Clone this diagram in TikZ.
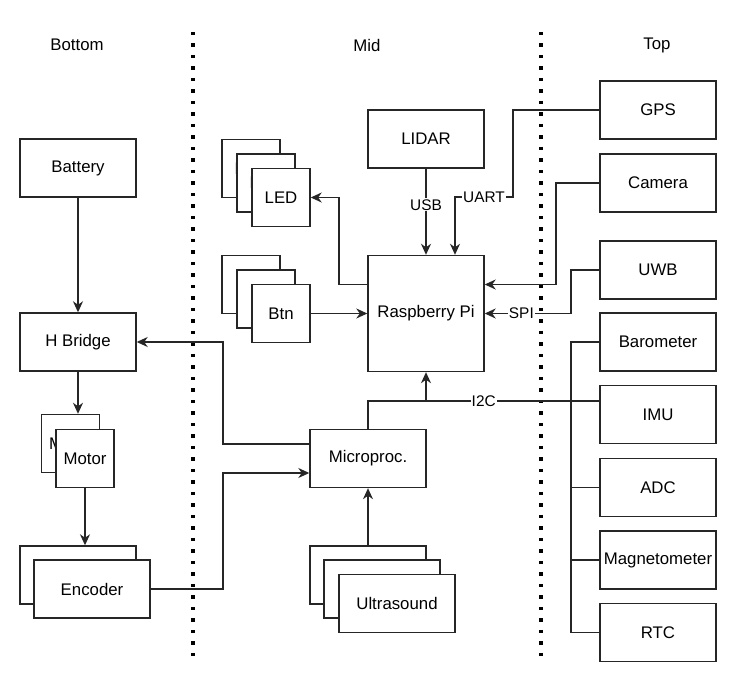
\documentclass[tikz,border=0pt]{standalone}
\usepackage{fontspec}
\setmainfont{Liberation Sans}
\usetikzlibrary{arrows.meta}
\begin{document}
\begin{tikzpicture}[x=1pt,y=-1pt,
    every node/.style={font=\fontsize{16.8}{20}\selectfont},
    blk/.style={draw=black!85,fill=white,line width=1.4pt,minimum width=116pt,minimum height=58pt,inner sep=0pt},
    sblk/.style={blk,minimum width=58pt},
    wire/.style={draw=black!85,line width=1.4pt},
    arr/.style={wire,-{Stealth[length=11pt,width=10pt,inset=3.5pt]}},
    lbl/.style={fill=white,inner sep=1pt,font=\fontsize{15.4}{18}\selectfont},
    sep/.style={line width=3.2pt,dash pattern=on 3.2pt off 8.3pt}]
  \useasboundingbox (0,0) rectangle (732,700);
  % headings and separators
  \node (bottom) at (77,45) {Bottom};
  \node (mid) at (367,45) {Mid};
  \node (top) at (657,45) {Top};
  \draw[sep] (193,32) -- (193,662);
  \draw[sep] (541,32) -- (541,662);
  % bottom
  \node[blk] (battery) at (78,168) {Battery};
  \node[blk] (hbridge) at (78,342) {H Bridge};
  \node[sblk] (motorb) at (70.5,443.5) {Motor};
  \node[sblk] (motor) at (85,458.5) {Motor};
  \node[blk] (encb) at (78,575) {};
  \node[blk] (encoder) at (92,589) {Encoder};
  % mid
  \node[sblk] (ledc) at (251,168.5) {LED};
  \node[sblk] (ledb) at (266,183) {LED};
  \node[sblk] (led) at (281,197.5) {LED};
  \node[sblk] (btnc) at (251,284.5) {};
  \node[sblk] (btnb) at (266,299) {};
  \node[sblk] (btn) at (281,313.5) {Btn};
  \node[blk] (lidar) at (426,139) {LIDAR};
  \node[blk,minimum height=116pt] (pi) at (426,313.5) {Raspberry Pi};
  \node[blk] (micro) at (368,458.5) {Microproc.};
  \node[blk] (ultrac) at (368,575) {};
  \node[blk] (ultrab) at (382,589) {};
  \node[blk] (ultra) at (397,603.5) {Ultrasound};
  % top
  \node[blk] (gps) at (658,110) {GPS};
  \node[blk] (camera) at (658,183) {Camera};
  \node[blk] (uwb) at (658,270) {UWB};
  \node[blk] (baro) at (658,342) {Barometer};
  \node[blk] (imu) at (658,414.5) {IMU};
  \node[blk] (adc) at (658,487.5) {ADC};
  \node[blk] (magnet) at (658,560) {Magnetometer};
  \node[blk] (rtc) at (658,632.5) {RTC};
  % wiring
  \coordinate (bus) at (571,0);
  \coordinate (i2c) at (426,401);
  \draw[arr] (battery) -- (hbridge);
  \draw[arr] (hbridge) -- (hbridge |- motorb.north);
  \draw[arr] (motor) -- (motor |- encb.north);
  \draw[arr] (encoder) -| (223,473) -- ([yshift=-14.5pt]micro.west);
  \draw[arr] ([yshift=14.5pt]micro.west) -| (223,342) -- (hbridge);
  \draw[arr] (micro) |- (i2c) -- (pi);
  \draw[wire] ([yshift=13.5pt]imu.west) -- node[lbl,pos=0.667]{I2C} (i2c);
  \draw[wire] (baro) -| (571,632.5) -- (rtc);
  \draw[wire] (adc.west) -- (adc.west -| bus);
  \draw[wire] (magnet.west) -- (magnet.west -| bus);
  \draw[arr] (lidar) -- node[lbl,pos=0.42]{USB} (pi);
  \draw[arr] (gps) -| (513,197) -- node[lbl]{UART} (455,197) -- ([xshift=29pt]pi.north);
  \draw[arr] (camera) -| (556,284.5) -- ([yshift=29pt]pi.east);
  \draw[arr] (uwb) -| (571,313.5) -- node[lbl,pos=0.575]{SPI} (pi);
  \draw[arr] ([yshift=29pt]pi.west) -| (339,197.5) -- (led);
  \draw[arr] (btn) -- (pi);
  \draw[arr] (ultrac) -- (micro);
\end{tikzpicture}
\end{document}
